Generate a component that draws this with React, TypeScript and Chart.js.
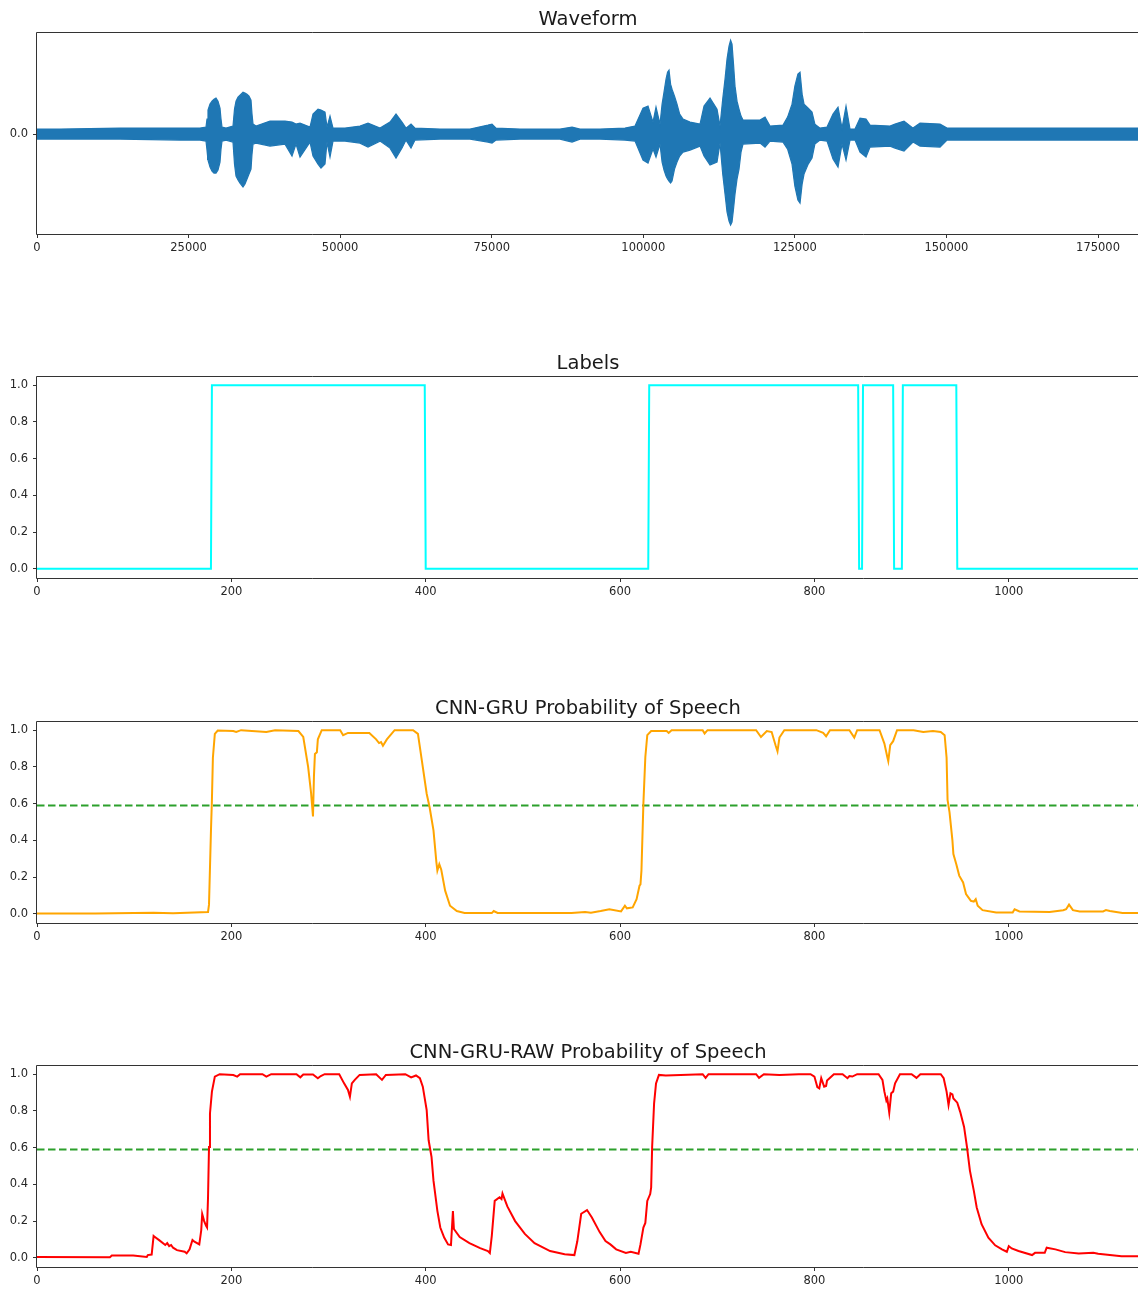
import React, { useEffect, useRef } from 'react';
import { Chart, registerables } from 'chart.js';

Chart.register(...registerables);

const FONT = "'DejaVu Sans', sans-serif";

// ---------- Waveform (amplitude envelope, sample index) ----------
const waveSamples = [0, 3794, 13690, 23586, 26886, 27875, 28040, 28204, 28534, 28864,
  29194, 29524, 29854, 30184, 30350, 30514, 31174, 32328, 32576, 32824,
  33154, 33483, 33978, 34308, 34638, 34968, 35298, 35463, 35628, 36122,
  38432, 40906, 42060, 42720, 43380, 45028, 45524, 46348, 46843, 47502,
  47832, 48328, 48822, 50802, 53276, 54596, 56574, 58224, 59214, 60204,
  60864, 61688, 62348, 66471, 71420, 74388, 75048, 75709, 79667, 86264,
  88244, 89562, 92862, 96985, 98634, 99954, 100778, 101603, 102097, 102757,
  103100, 103417, 103750, 104000, 104242, 104500, 104737, 105150, 105561, 106000,
  106552, 107706, 109356, 110016, 111006, 112160, 112655, 113100, 113480, 113810,
  114140, 114400, 114634, 114880, 115129, 115459, 115789, 116120, 116449, 119252,
  120077, 120902, 123046, 123800, 124530, 125000, 125500, 125850, 126200, 126510,
  127200, 127829, 128300, 129148, 130303, 131292, 132117, 132777, 133437, 134096,
  134921, 135746, 136736, 137395, 140694, 141519, 143004, 144488, 145642, 148942,
  150096, 158838, 167086, 175333, 181760];
const waveUpper = [0.05, 0.05, 0.06, 0.06, 0.06, 0.07, 0.15, 0.24, 0.30, 0.33,
  0.35, 0.36, 0.33, 0.26, 0.15, 0.07, 0.06, 0.08, 0.25, 0.33,
  0.37, 0.39, 0.42, 0.41, 0.40, 0.38, 0.34, 0.20, 0.10, 0.08,
  0.13, 0.13, 0.12, 0.10, 0.11, 0.07, 0.20, 0.25, 0.24, 0.22,
  0.07, 0.18, 0.06, 0.06, 0.08, 0.11, 0.06, 0.12, 0.20, 0.12,
  0.06, 0.10, 0.06, 0.05, 0.05, 0.09, 0.10, 0.06, 0.05, 0.05,
  0.07, 0.05, 0.05, 0.06, 0.08, 0.26, 0.28, 0.12, 0.27, 0.10,
  0.30, 0.42, 0.55, 0.62, 0.64, 0.50, 0.45, 0.38, 0.30, 0.20,
  0.15, 0.12, 0.10, 0.28, 0.36, 0.25, 0.08, 0.35, 0.55, 0.75,
  0.88, 0.94, 0.90, 0.70, 0.48, 0.33, 0.25, 0.18, 0.14, 0.14,
  0.17, 0.08, 0.09, 0.17, 0.30, 0.48, 0.60, 0.62, 0.40, 0.30,
  0.26, 0.22, 0.10, 0.06, 0.07, 0.20, 0.27, 0.06, 0.28, 0.05,
  0.05, 0.16, 0.15, 0.09, 0.08, 0.10, 0.13, 0.06, 0.11, 0.10,
  0.06, 0.06, 0.06, 0.06, 0.06];
const waveLower = [-0.05, -0.05, -0.05, -0.06, -0.06, -0.07, -0.16, -0.26, -0.33, -0.37,
  -0.39, -0.39, -0.36, -0.28, -0.15, -0.07, -0.06, -0.08, -0.30, -0.42,
  -0.46, -0.49, -0.53, -0.50, -0.45, -0.40, -0.35, -0.20, -0.10, -0.09,
  -0.12, -0.10, -0.22, -0.10, -0.23, -0.08, -0.22, -0.30, -0.34, -0.30,
  -0.08, -0.23, -0.07, -0.07, -0.09, -0.13, -0.07, -0.14, -0.24, -0.14,
  -0.06, -0.14, -0.06, -0.05, -0.05, -0.08, -0.09, -0.06, -0.05, -0.05,
  -0.08, -0.05, -0.05, -0.06, -0.07, -0.26, -0.29, -0.15, -0.23, -0.10,
  -0.28, -0.36, -0.42, -0.45, -0.47, -0.49, -0.47, -0.35, -0.28, -0.22,
  -0.18, -0.16, -0.12, -0.22, -0.31, -0.28, -0.09, -0.40, -0.60, -0.78,
  -0.87, -0.91, -0.88, -0.75, -0.60, -0.45, -0.35, -0.18, -0.10, -0.09,
  -0.13, -0.07, -0.08, -0.15, -0.30, -0.52, -0.66, -0.69, -0.50, -0.40,
  -0.30, -0.24, -0.10, -0.06, -0.07, -0.25, -0.33, -0.10, -0.26, -0.06,
  -0.06, -0.18, -0.23, -0.13, -0.12, -0.14, -0.17, -0.08, -0.12, -0.13,
  -0.06, -0.06, -0.06, -0.06, -0.06];
const waveMax = 181760;
const waveXTicks = [0, 25000, 50000, 75000, 100000, 125000, 150000, 175000];
const waveYTicks = [0];

// ---------- Labels (speech segments in frames) ----------
const frameCount = 1134;
const frameXTicks = [0, 200, 400, 600, 800, 1000];
const speechStarts = [180, 630, 850, 891];
const speechEnds = [400, 846, 882, 947];

// ---------- CNN-GRU probability ----------
const gruFrames = [0, 60, 120, 140, 176, 177, 179, 180, 181, 183, 186, 202, 205, 210, 236, 245, 269, 274, 279, 282, 284, 285, 286, 288, 289, 293, 312, 315, 320, 342, 349, 352, 354, 356, 360, 368, 387, 392, 396, 401, 404, 408, 411, 412, 414, 416, 420, 425, 432, 440, 468, 470, 474, 520, 550, 564, 570, 580, 589, 601, 605, 607, 613, 617, 620, 621, 622, 624, 626, 628, 632, 648, 650, 653, 685, 687, 690, 740, 745, 751, 756, 760, 762, 764, 769, 802, 809, 812, 816, 836, 841, 844, 867, 872, 875, 876, 878, 881, 885, 902, 912, 922, 930, 934, 936, 937, 939, 942, 943, 946, 949, 953, 956, 961, 964, 966, 968, 973, 987, 1004, 1006, 1011, 1042, 1056, 1059, 1062, 1066, 1073, 1097, 1100, 1104, 1117, 1133];
const gruProb = [0.002, 0.002, 0.006, 0.003, 0.01, 0.05, 0.45, 0.62, 0.85, 0.98, 0.998, 0.995, 0.99, 1.0, 0.99, 1.0, 0.995, 0.963, 0.8, 0.66, 0.53, 0.75, 0.87, 0.88, 0.95, 1.0, 1.0, 0.973, 0.985, 0.985, 0.95, 0.93, 0.935, 0.915, 0.95, 1.0, 1.0, 0.98, 0.836, 0.654, 0.58, 0.454, 0.28, 0.235, 0.27, 0.24, 0.126, 0.044, 0.015, 0.005, 0.004, 0.015, 0.005, 0.004, 0.005, 0.01, 0.006, 0.015, 0.025, 0.013, 0.044, 0.03, 0.035, 0.08, 0.153, 0.16, 0.235, 0.6, 0.854, 0.973, 0.995, 0.995, 0.985, 1.0, 1.0, 0.982, 1.0, 1.0, 0.963, 0.995, 0.99, 0.918, 0.885, 0.96, 1.0, 1.0, 0.985, 0.967, 1.0, 1.0, 0.96, 1.0, 1.0, 0.927, 0.854, 0.832, 0.918, 0.94, 1.0, 1.0, 0.99, 0.995, 0.99, 0.973, 0.85, 0.62, 0.554, 0.4, 0.326, 0.27, 0.208, 0.171, 0.108, 0.071, 0.066, 0.08, 0.044, 0.02, 0.007, 0.007, 0.025, 0.013, 0.01, 0.02, 0.025, 0.05, 0.02, 0.013, 0.013, 0.02, 0.015, 0.005, 0.005];

// ---------- CNN-GRU-RAW probability ----------
const rawFrames = [0, 75, 77, 99, 113, 114, 118, 120, 121, 126, 132, 134, 136, 138, 140, 144, 152, 154, 157, 160, 162, 167, 169, 170, 172, 174, 175, 176, 177, 178, 180, 183, 188, 202, 206, 209, 232, 236, 241, 267, 271, 274, 284, 289, 292, 296, 311, 316, 320, 322, 324, 327, 332, 349, 355, 359, 379, 385, 390, 394, 397, 401, 403, 406, 408, 412, 415, 419, 423, 426, 428, 429, 435, 445, 456, 464, 466, 468, 471, 476, 478, 479, 484, 492, 502, 512, 528, 543, 553, 556, 560, 566, 571, 579, 585, 590, 596, 606, 611, 619, 621, 624, 626, 628, 631, 632, 633, 635, 637, 640, 647, 685, 688, 691, 740, 743, 748, 764, 784, 796, 800, 803, 805, 807, 810, 812, 813, 820, 829, 834, 836, 839, 844, 866, 870, 872, 874, 875, 877, 879, 881, 883, 888, 900, 905, 909, 930, 933, 936, 938, 940, 942, 943, 947, 950, 954, 957, 960, 964, 967, 972, 979, 986, 993, 998, 1000, 1003, 1010, 1024, 1027, 1037, 1039, 1048, 1058, 1072, 1087, 1092, 1116, 1133];
const rawProb = [0.005, 0.003, 0.013, 0.012, 0.005, 0.015, 0.018, 0.119, 0.115, 0.095, 0.07, 0.08, 0.064, 0.07, 0.055, 0.042, 0.033, 0.024, 0.046, 0.097, 0.088, 0.073, 0.15, 0.238, 0.2, 0.174, 0.165, 0.33, 0.603, 0.786, 0.905, 0.987, 1.0, 0.995, 0.987, 1.0, 1.0, 0.987, 1.0, 1.0, 0.983, 0.998, 0.998, 0.978, 0.99, 1.0, 1.0, 0.95, 0.914, 0.877, 0.95, 0.969, 0.996, 1.0, 0.969, 0.996, 1.0, 0.982, 0.993, 0.978, 0.932, 0.804, 0.64, 0.548, 0.42, 0.256, 0.165, 0.11, 0.073, 0.07, 0.255, 0.157, 0.113, 0.08, 0.053, 0.037, 0.026, 0.12, 0.31, 0.33, 0.32, 0.35, 0.28, 0.2, 0.13, 0.08, 0.037, 0.02, 0.015, 0.09, 0.24, 0.26, 0.22, 0.14, 0.091, 0.073, 0.046, 0.027, 0.033, 0.022, 0.073, 0.165, 0.19, 0.31, 0.347, 0.384, 0.603, 0.84, 0.95, 0.996, 0.993, 1.0, 0.98, 1.0, 1.0, 0.98, 1.0, 0.996, 1.0, 1.0, 0.987, 0.93, 0.923, 0.978, 0.932, 0.936, 0.965, 1.0, 1.0, 0.978, 0.99, 0.987, 1.0, 1.0, 0.969, 0.905, 0.856, 0.868, 0.79, 0.896, 0.905, 0.95, 1.0, 1.0, 0.98, 1.0, 1.0, 0.978, 0.905, 0.832, 0.896, 0.89, 0.868, 0.845, 0.795, 0.713, 0.603, 0.475, 0.366, 0.274, 0.183, 0.11, 0.068, 0.046, 0.033, 0.064, 0.051, 0.037, 0.015, 0.027, 0.027, 0.055, 0.046, 0.031, 0.024, 0.027, 0.022, 0.009, 0.008];

const threshold = 0.59;
const probYTicks = [0, 0.2, 0.4, 0.6, 0.8, 1.0];

const titles = ['Waveform', 'Labels', 'CNN-GRU Probability of Speech', 'CNN-GRU-RAW Probability of Speech'];

const toPoints = (xs: number[], ys: number[]) => xs.map((x, i) => ({ x, y: ys[i] }));

const labelValues = Array.from({ length: frameCount }, (_, f) =>
  speechStarts.some((s, i) => f >= s && f < speechEnds[i]) ? 1 : 0
);
const labelFrames = Array.from({ length: frameCount }, (_, f) => f);

const framePlugin = {
  id: 'frameBox',
  afterDatasetsDraw(chart: any) {
    const { ctx, chartArea: a } = chart;
    ctx.save();
    ctx.strokeStyle = '#333333';
    ctx.lineWidth = 1;
    ctx.beginPath();
    ctx.moveTo(a.left - 0.5, a.top + 0.5);
    ctx.lineTo(a.right + 0.5, a.top + 0.5);
    ctx.lineTo(a.right + 0.5, a.bottom + 0.5);
    ctx.lineTo(a.left - 0.5, a.bottom + 0.5);
    ctx.closePath();
    ctx.stroke();
    ctx.restore();
  },
};

const titlePlugin = {
  id: 'panelTitle',
  afterDraw(chart: any, _args: any, opts: any) {
    const { ctx, chartArea: a } = chart;
    ctx.save();
    ctx.font = `19.5px ${FONT}`;
    ctx.fillStyle = '#1a1a1a';
    ctx.textAlign = 'center';
    ctx.textBaseline = 'alphabetic';
    ctx.fillText(opts.text, (a.left + a.right) / 2, a.top - 7);
    ctx.restore();
  },
};

const tickFont = { family: FONT, size: 11.5 };

function makeConfig(kind: number): any {
  const isWave = kind === 0;
  const xMax = isWave ? waveMax : frameCount;
  const xTicks = isWave ? waveXTicks : frameXTicks;
  const yTicks = isWave ? waveYTicks : probYTicks;
  let datasets: any[] = [];
  if (isWave) {
    datasets = [
      { data: toPoints(waveSamples, waveUpper), borderColor: '#1f77b4', backgroundColor: '#1f77b4', borderWidth: 1.2, fill: '+1', pointRadius: 0, tension: 0 },
      { data: toPoints(waveSamples, waveLower), borderColor: '#1f77b4', backgroundColor: '#1f77b4', borderWidth: 1.2, fill: false, pointRadius: 0, tension: 0 },
    ];
  } else if (kind === 1) {
    datasets = [{ data: toPoints(labelFrames, labelValues), borderColor: '#00ffff', borderWidth: 2, pointRadius: 0, tension: 0, fill: false }];
  } else {
    const probs = kind === 2 ? toPoints(gruFrames, gruProb) : toPoints(rawFrames, rawProb);
    datasets = [
      { data: probs, borderColor: kind === 2 ? '#ffa500' : '#ff0000', borderWidth: 2, pointRadius: 0, tension: 0, fill: false },
      { data: toPoints([0, frameCount], [threshold, threshold]), borderColor: '#2ca02c', borderWidth: 2, borderDash: [7.5, 3.5], pointRadius: 0, fill: false },
    ];
  }
  return {
    type: 'line',
    data: { datasets },
    plugins: [framePlugin, titlePlugin],
    options: {
      responsive: false,
      animation: false,
      devicePixelRatio: 1,
      events: [],
      layout: { padding: { top: 32, right: 1, left: 0, bottom: 0 } },
      plugins: {
        legend: { display: false },
        tooltip: { enabled: false },
        panelTitle: { text: titles[kind] },
      },
      scales: {
        x: {
          type: 'linear',
          min: 0,
          max: xMax,
          afterFit: (s: any) => { s.height = 28; },
          afterBuildTicks: (s: any) => {
            s.ticks = xTicks.map((v) => ({ value: v }));
          },
          border: { display: false },
          grid: { display: true, drawOnChartArea: false, drawTicks: true, tickLength: 4, color: '#333333' },
          ticks: {
            autoSkip: false,
            maxRotation: 0,
            padding: 3,
            color: '#262626',
            font: tickFont,
            callback: (v: any) => String(v),
          },
        },
        y: {
          type: 'linear',
          min: isWave ? -1.0 : -0.05,
          max: isWave ? 1.022 : 1.05,
          afterFit: (s: any) => { s.width = 37; },
          afterBuildTicks: (s: any) => {
            s.ticks = yTicks.map((v) => ({ value: v }));
          },
          border: { display: false },
          grid: { display: true, drawOnChartArea: false, drawTicks: true, tickLength: 4, color: '#333333' },
          ticks: {
            autoSkip: false,
            padding: 5,
            color: '#262626',
            font: tickFont,
            callback: (v: any) => Number(v).toFixed(1),
          },
        },
      },
    },
  };
}

const panelTops = [0, 344, 689, 1033];

function Panel({ kind }: { kind: number }) {
  const ref = useRef<HTMLCanvasElement | null>(null);
  useEffect(() => {
    if (!ref.current) return;
    const chart = new Chart(ref.current, makeConfig(kind));
    return () => chart.destroy();
  }, [kind]);
  return (
    <canvas
      ref={ref}
      width={1140}
      height={262}
      style={{ position: 'absolute', left: 0, top: panelTops[kind], width: 1140, height: 262 }}
    />
  );
}

export default function App() {
  return (
    <div style={{ position: 'fixed', left: 0, top: 0, width: 1138, height: 1290, overflow: 'hidden', background: '#ffffff' }}>
      {[0, 1, 2, 3].map((k) => (
        <Panel key={k} kind={k} />
      ))}
    </div>
  );
}
